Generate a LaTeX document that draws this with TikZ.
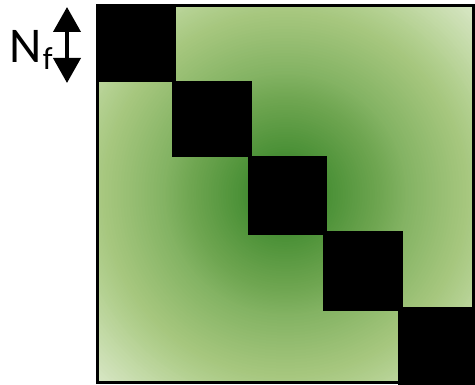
\documentclass[tikz,border=0pt]{standalone}
\usepackage{fontspec}
\setmainfont{Carlito}
\usetikzlibrary{arrows.meta}
\definecolor{g0}{RGB}{40,115,30}
\definecolor{g1}{RGB}{75,145,55}
\definecolor{g2}{RGB}{110,165,80}
\definecolor{g3}{RGB}{130,178,98}
\definecolor{g4}{RGB}{165,198,125}
\definecolor{g5}{RGB}{182,210,148}
\definecolor{g6}{RGB}{218,232,200}
\tikzset{
  blk/.style={fill=black, draw=none},
  lbl/.style={inner sep=0pt, font=\fontsize{50}{50}\selectfont},
  sublbl/.style={inner sep=0pt, font=\fontsize{32}{32}\selectfont},
  dbl/.style={line width=4pt, {Triangle[length=25pt,width=27pt]}-{Triangle[length=25pt,width=27pt]}}
}
\begin{document}
\begin{tikzpicture}[x=1pt,y=-1pt]
\useasboundingbox (0,0) rectangle (475,385);
% matrix with radial glow
\coordinate (mc) at (285.5,194.25);
\begin{scope}
\clip (97.5,5.5) rectangle (473.5,383);
\fill[g6] (97.5,5.5) rectangle (473.5,383);
\foreach \ra/\rb/\ca/\cb in {210/270/g5/g6, 180/210/g4/g5, 120/180/g3/g4, 94/120/g2/g3, 45/94/g1/g2, 0/45/g0/g1}{
  \foreach \t in {1.0,0.95,...,0.01}{
    \pgfmathsetmacro{\rr}{\ra+\t*(\rb-\ra)}
    \pgfmathsetmacro{\pp}{\t*100}
    \fill[color=\cb!\pp!\ca] (mc) circle [radius=\rr pt];
  }
}
\end{scope}
% diagonal blocks
\fill[blk] (97,5) rectangle (176,82);
\fill[blk] (172,81) rectangle (252,157);
\fill[blk] (248,156) rectangle (327,235);
\fill[blk] (323,231) rectangle (403,311);
\fill[blk] (398,307) rectangle (475,385);
\draw[line width=3pt] (97.5,5.5) rectangle (473.5,383);
% label
\node[lbl, anchor=base west] (N) at (9,63) {N};
\node[sublbl, anchor=base west] (f) at (N.base east) [xshift=1pt, yshift=-7pt] {f};
\coordinate (atop) at (67,7);
\coordinate (abot) at (67,83);
\draw[dbl] (atop) -- (abot);
\end{tikzpicture}
\end{document}
